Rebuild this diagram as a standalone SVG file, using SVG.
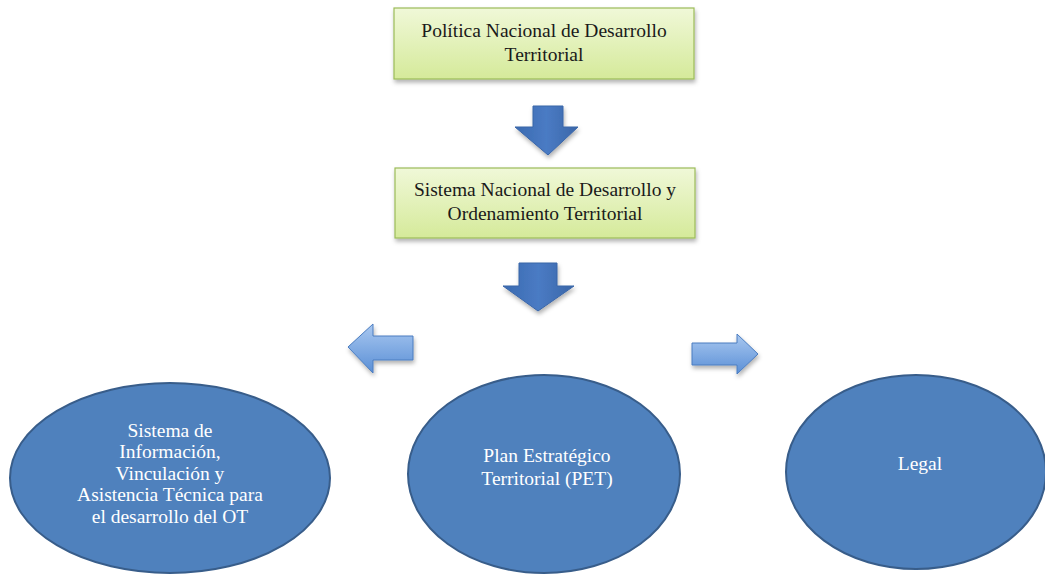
<svg xmlns="http://www.w3.org/2000/svg" width="1045" height="575" viewBox="0 0 1045 575">
<defs>
<linearGradient id="gBox" x1="0" y1="0" x2="0" y2="1">
<stop offset="0" stop-color="#f0f8d8"/><stop offset="1" stop-color="#d5ea9a"/>
</linearGradient>
<linearGradient id="gDown" x1="0" y1="0" x2="1" y2="0">
<stop offset="0" stop-color="#3a6ab0"/><stop offset="0.5" stop-color="#4a7bc4"/><stop offset="1" stop-color="#3a66a8"/>
</linearGradient>
<linearGradient id="gSide" x1="0" y1="0" x2="0" y2="1">
<stop offset="0" stop-color="#a9c8f0"/><stop offset="1" stop-color="#5a8fd6"/>
</linearGradient>
<filter id="sh" x="-10%" y="-10%" width="130%" height="140%">
<feDropShadow dx="1" dy="3" stdDeviation="2" flood-color="#000" flood-opacity="0.3"/>
</filter>
<style>
.box{fill:url(#gBox);stroke:#9bbb59;stroke-width:1.2;filter:url(#sh)}
.tb{font-family:"Liberation Serif",serif;font-size:19.5px;fill:#1a1a1a;text-anchor:middle}
.tw{font-family:"Liberation Serif",serif;font-size:19.5px;fill:#ffffff;text-anchor:middle}
.ell{fill:#4f81bd;stroke:#385d8a;stroke-width:2}
.down{fill:url(#gDown);stroke:#3a66a8;stroke-width:1;filter:url(#sh)}
.side{fill:url(#gSide);stroke:#4a7cc0;stroke-width:1;filter:url(#sh)}
</style>
</defs>
<rect width="1045" height="575" fill="#ffffff"/>
<g id="connectors">
<polygon class="down" points="533,106 563,106 563,127 578,127 548,155 515,127 533,127"/>
<polygon class="down" points="519,263 557,263 557,286 574,286 538,311 503,286 519,286"/>
<polygon class="side" points="413,336 413,360 373,360 373,373 348,347 373,324 373,336"/>
<polygon class="side" points="692,343 737,343 737,334 758,354 737,374 737,365 692,365"/>
</g>
<g id="node-politica">
<rect class="box" x="394" y="8" width="300" height="71"/>
<text class="tb" x="544" y="37">Política Nacional de Desarrollo</text>
<text class="tb" x="544" y="61">Territorial</text>
</g>
<g id="node-sistema-nacional">
<rect class="box" x="395" y="168" width="300" height="70"/>
<text class="tb" x="545" y="196">Sistema Nacional de Desarrollo y</text>
<text class="tb" x="545" y="220">Ordenamiento Territorial</text>
</g>
<g id="node-informacion">
<ellipse class="ell" cx="170" cy="478" rx="160" ry="95"/>
<text class="tw" x="170" y="437">Sistema de</text>
<text class="tw" x="170" y="458">Información,</text>
<text class="tw" x="170" y="480">Vinculación y</text>
<text class="tw" x="170" y="501">Asistencia Técnica para</text>
<text class="tw" x="170" y="523">el desarrollo del OT</text>
</g>
<g id="node-pet">
<ellipse class="ell" cx="544" cy="474" rx="136" ry="99"/>
<text class="tw" x="547" y="462">Plan Estratégico</text>
<text class="tw" x="547" y="485">Territorial (PET)</text>
</g>
<g id="node-legal">
<ellipse class="ell" cx="916" cy="472" rx="130" ry="97"/>
<text class="tw" x="920" y="470">Legal</text>
</g>
</svg>
